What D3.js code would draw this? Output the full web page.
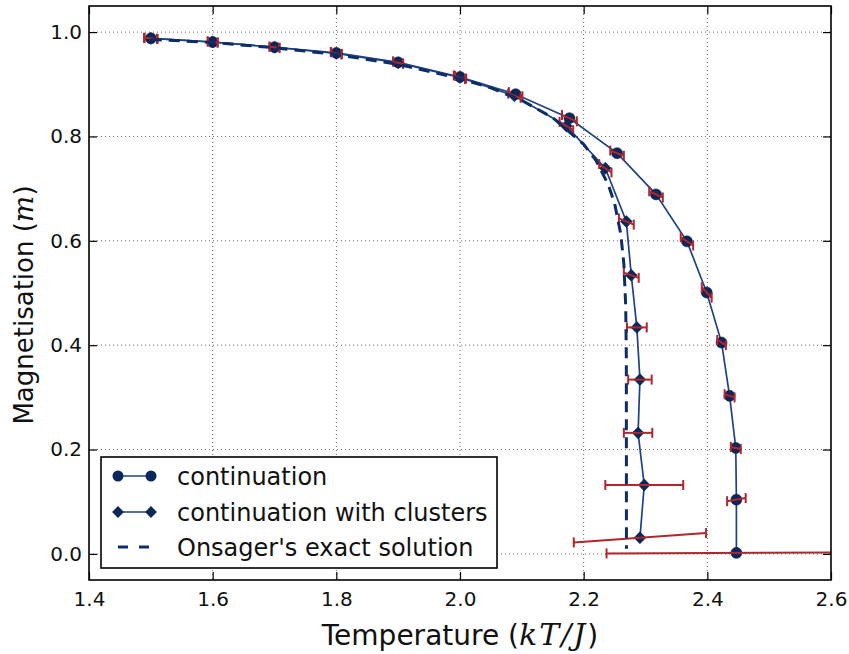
<!DOCTYPE html>
<html>
<head>
<meta charset="utf-8">
<script src="https://cdn.jsdelivr.net/npm/d3@7"></script>
<style>
  html, body { margin: 0; padding: 0; background: #fff; }
  svg { display: block; font-family: "DejaVu Sans", sans-serif; }
</style>
</head>
<body>
<svg id="chart" width="849" height="654"></svg>
<script>
// Temperature / magnetisation for the plain continuation runs
const contT = [1.5, 1.6, 1.7, 1.8, 1.9, 2.0, 2.09, 2.177, 2.254, 2.317, 2.367, 2.399, 2.423, 2.436, 2.446, 2.447, 2.447];
const contM = [0.988, 0.981, 0.971, 0.960, 0.942, 0.914, 0.881, 0.835, 0.768, 0.689, 0.599, 0.501, 0.405, 0.303, 0.203, 0.104, 0.002];
// half-extent of each error segment (temperature, magnetisation)
const contErrT = [0.011, 0.008, 0.008, 0.009, 0.008, 0.010, 0.011, 0.012, 0.011, 0.011, 0.010, 0.008, 0.007, 0.008, 0.008, 0.015, 0.210];
const contErrM = [-0.001, -0.001, -0.001, -0.002, -0.002, -0.003, -0.004, -0.006, -0.005, -0.006, -0.008, -0.010, -0.005, -0.003, -0.002, 0.003, 0.001];

// Continuation with cluster updates
const clusT = [1.5, 1.6, 1.7, 1.8, 1.9, 2.0, 2.088, 2.172, 2.235, 2.269, 2.277, 2.286, 2.291, 2.288, 2.298, 2.291];
const clusM = [0.988, 0.981, 0.971, 0.959, 0.941, 0.913, 0.878, 0.820, 0.739, 0.637, 0.534, 0.434, 0.334, 0.232, 0.132, 0.031];
const clusErrT = [0.010, 0.008, 0.008, 0.008, 0.008, 0.008, 0.010, 0.011, 0.010, 0.012, 0.012, 0.016, 0.019, 0.023, 0.063, 0.107];
const clusErrM = [-0.001, -0.001, -0.001, -0.002, -0.002, -0.003, -0.004, -0.008, -0.008, -0.006, -0.005, 0.000, 0.000, 0.000, 0.000, 0.009];

// Onsager's exact spontaneous magnetisation
const onsT = [1.5, 1.6, 1.7, 1.8, 1.9, 2.0, 2.05, 2.1, 2.15, 2.2, 2.22, 2.24, 2.25, 2.26, 2.265, 2.268, 2.269, 2.2692];
const onsM = [0.986, 0.980, 0.970, 0.957, 0.938, 0.911, 0.893, 0.869, 0.836, 0.785, 0.754, 0.707, 0.672, 0.613, 0.556, 0.475, 0.376, 0.010];

const xTicks = [1.4, 1.6, 1.8, 2.0, 2.2, 2.4, 2.6];
const yTicks = [0.0, 0.2, 0.4, 0.6, 0.8, 1.0];
const legendLabels = ["continuation", "continuation with clusters", "Onsager's exact solution"];

const W = 849, H = 654;
const margin = { left: 89, right: 18, top: 6, bottom: 74 };
const iw = W - margin.left - margin.right;
const ih = H - margin.top - margin.bottom;

const lineColor = "#1f4286";
const markColor = "#0c275a";
const errColor = "#b0262c";
const dashColor = "#0d2d66";
const mathFont = "DejaVu Serif, serif";

const svg = d3.select("#chart");
const g = svg.append("g").attr("transform", `translate(${margin.left},${margin.top})`);

const x = d3.scaleLinear().domain([1.4, 2.6]).range([0, iw]);
const y = d3.scaleLinear().domain([-0.05, 1.05]).range([ih, 0]);

svg.append("defs").append("clipPath").attr("id", "plotclip")
  .append("rect").attr("width", iw).attr("height", ih);

// dotted grid
const grid = g.append("g").attr("stroke", "#000").attr("stroke-width", 0.8)
  .attr("stroke-dasharray", "1,3").attr("opacity", 0.75);
grid.selectAll("line.gx").data(xTicks.slice(1, -1)).join("line")
  .attr("x1", d => x(d)).attr("x2", d => x(d)).attr("y1", 0).attr("y2", ih);
grid.selectAll("line.gy").data(yTicks).join("line")
  .attr("y1", d => y(d)).attr("y2", d => y(d)).attr("x1", 0).attr("x2", iw);

const plot = g.append("g").attr("clip-path", "url(#plotclip)");
const line = d3.line().x(d => x(d[0])).y(d => y(d[1]));

function drawSeries(T, M, eT, eM, symbolType) {
  const pts = T.map((t, i) => [t, M[i]]);
  plot.append("path").datum(pts).attr("d", line)
    .attr("fill", "none").attr("stroke", lineColor).attr("stroke-width", 1.7);
  if (symbolType === "circle") {
    plot.append("g").selectAll("circle").data(pts).join("circle")
      .attr("cx", d => x(d[0])).attr("cy", d => y(d[1])).attr("r", 5.5)
      .attr("fill", markColor).attr("stroke", "#0a1f48").attr("stroke-width", 0.6);
  } else {
    const sym = d3.symbol().type(d3.symbolSquare).size(70);
    plot.append("g").selectAll("path").data(pts).join("path")
      .attr("d", sym)
      .attr("transform", d => `translate(${x(d[0])},${y(d[1])}) rotate(45)`)
      .attr("fill", markColor).attr("stroke", "#0a1f48").attr("stroke-width", 0.6);
  }
  const bars = plot.append("g").attr("stroke", errColor).attr("stroke-width", 2).attr("fill", "none");
  T.forEach((t, i) => {
    const x0 = x(t - eT[i]), y0 = y(M[i] - eM[i]);
    const x1 = x(t + eT[i]), y1 = y(M[i] + eM[i]);
    bars.append("line").attr("x1", x0).attr("y1", y0).attr("x2", x1).attr("y2", y1);
    bars.append("line").attr("x1", x0).attr("x2", x0).attr("y1", y0 - 5).attr("y2", y0 + 5);
    bars.append("line").attr("x1", x1).attr("x2", x1).attr("y1", y1 - 5).attr("y2", y1 + 5);
  });
}

drawSeries(contT, contM, contErrT, contErrM, "circle");
drawSeries(clusT, clusM, clusErrT, clusErrM, "diamond");

plot.append("path").datum(onsT.map((t, i) => [t, onsM[i]])).attr("d", line)
  .attr("fill", "none").attr("stroke", dashColor).attr("stroke-width", 3)
  .attr("stroke-dasharray", "11,7");

// axes: ticks pointing inward on all four sides
const fmt = d3.format(".1f");
const styleAxis = sel => {
  sel.select(".domain").remove();
  sel.selectAll(".tick line").attr("stroke", "#000").attr("stroke-width", 1.2);
  sel.selectAll("text").attr("fill", "#111").style("font-size", "20px")
    .style("font-family", "DejaVu Sans, sans-serif");
};
g.append("g").attr("transform", `translate(0,${ih})`)
  .call(d3.axisBottom(x).tickValues(xTicks).tickFormat(fmt).tickSizeInner(-8).tickSizeOuter(0).tickPadding(12))
  .call(styleAxis);
g.append("g")
  .call(d3.axisTop(x).tickValues(xTicks).tickFormat("").tickSizeInner(-8).tickSizeOuter(0))
  .call(styleAxis);
g.append("g")
  .call(d3.axisLeft(y).tickValues(yTicks).tickFormat(fmt).tickSizeInner(-8).tickSizeOuter(0).tickPadding(7))
  .call(styleAxis);
g.append("g").attr("transform", `translate(${iw},0)`)
  .call(d3.axisRight(y).tickValues(yTicks).tickFormat("").tickSizeInner(-8).tickSizeOuter(0))
  .call(styleAxis);

// frame
g.append("rect").attr("width", iw).attr("height", ih)
  .attr("fill", "none").attr("stroke", "#000").attr("stroke-width", 1.6);

// axis titles
const xl = svg.append("text").attr("x", margin.left + iw / 2).attr("y", 645)
  .attr("text-anchor", "middle").style("font-size", "28px").attr("fill", "#111");
xl.append("tspan").text("Temperature (");
xl.append("tspan").style("font-family", mathFont).style("font-style", "italic")
  .style("font-size", "30px").style("letter-spacing", "2px").text("kT/J");
xl.append("tspan").text(")");

const yl = svg.append("text").attr("transform", `translate(33,${margin.top + ih / 2 + 12}) rotate(-90)`)
  .attr("text-anchor", "middle").style("font-size", "26px").attr("fill", "#111");
yl.append("tspan").text("Magnetisation (");
yl.append("tspan").style("font-family", mathFont).style("font-style", "italic")
  .style("font-size", "28px").text("m");
yl.append("tspan").text(")");

// legend
const lg = svg.append("g");
lg.append("rect").attr("x", 101).attr("y", 457).attr("width", 396).attr("height", 111)
  .attr("fill", "#fff").attr("stroke", "#000").attr("stroke-width", 1.6);
const rows = [476, 512, 547];
const lx0 = 118, lx1 = 151;
lg.append("line").attr("x1", lx0).attr("x2", lx1).attr("y1", rows[0]).attr("y2", rows[0])
  .attr("stroke", lineColor).attr("stroke-width", 1.7);
[lx0, lx1].forEach(px => lg.append("circle").attr("cx", px).attr("cy", rows[0]).attr("r", 5.5).attr("fill", markColor));
lg.append("line").attr("x1", lx0).attr("x2", lx1).attr("y1", rows[1]).attr("y2", rows[1])
  .attr("stroke", lineColor).attr("stroke-width", 1.7);
[lx0, lx1].forEach(px => lg.append("path").attr("d", d3.symbol().type(d3.symbolSquare).size(70))
  .attr("transform", `translate(${px},${rows[1]}) rotate(45)`).attr("fill", markColor));
lg.append("line").attr("x1", lx0).attr("x2", lx1).attr("y1", rows[2]).attr("y2", rows[2])
  .attr("stroke", dashColor).attr("stroke-width", 3).attr("stroke-dasharray", "10,11");
legendLabels.forEach((t, i) => {
  lg.append("text").attr("x", 177).attr("y", rows[i]).attr("dy", "0.36em")
    .style("font-size", "24px").attr("fill", "#111").text(t);
});
</script>
</body>
</html>
